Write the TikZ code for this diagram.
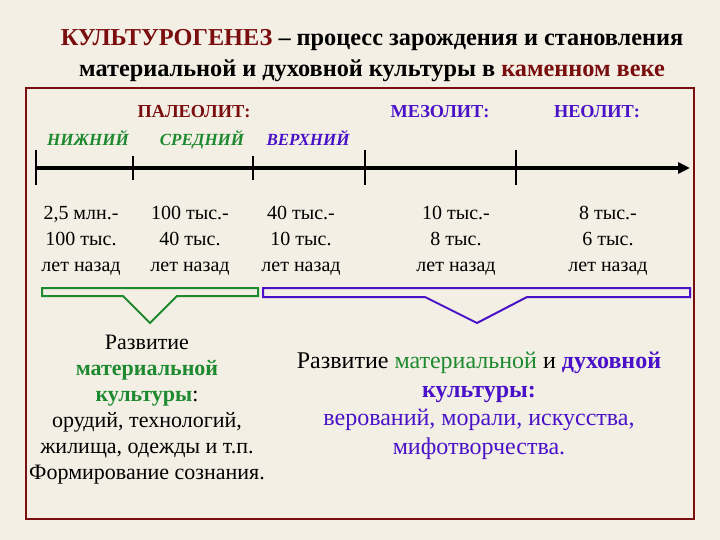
\documentclass[tikz,border=0pt]{standalone}
\usepackage{fontspec}
\setmainfont{Liberation Serif}
\usetikzlibrary{arrows.meta}

\definecolor{parchment}{RGB}{243,239,228}
\definecolor{kamred}{RGB}{122,14,14}
\definecolor{kamgreen}{RGB}{30,138,48}
\definecolor{kamviolet}{RGB}{74,18,200}
\newcommand{\setfs}[2]{\fontsize{#1}{#2}\selectfont}

\begin{document}
\begin{tikzpicture}[x=1pt,y=-1pt]
    \useasboundingbox (0,0) rectangle (720,540);
    \fill[parchment] (0,0) rectangle (720,540);

    \node[align=center,font=\setfs{24.3}{31}\bfseries] (title) at (372,56)
        {\textcolor{kamred}{КУЛЬТУРОГЕНЕЗ} -- процесс зарождения и становления\\
         материальной и духовной культуры в \textcolor{kamred}{каменном веке}};

    \draw[kamred,line width=2.5pt] (26,88) rectangle (694,519);

    \begin{scope}[every node/.style={anchor=base,font=\setfs{18.3}{20}\bfseries}]
        \node[kamred] (paleo) at (194,118) {ПАЛЕОЛИТ:};
        \node[kamviolet] (meso) at (440,118) {МЕЗОЛИТ:};
        \node[kamviolet] (neo) at (597,118) {НЕОЛИТ:};
    \end{scope}

    \begin{scope}[every node/.style={anchor=base,font=\setfs{17}{20}\bfseries\itshape}]
        \node[kamgreen] (lower) at (88,146) {НИЖНИЙ};
        \node[kamgreen] (middle) at (202,146) {СРЕДНИЙ};
        \node[kamviolet] (upper) at (308,146) {ВЕРХНИЙ};
    \end{scope}

    \coordinate (tstart) at (36,168);
    \coordinate (tend) at (690,168);
    \draw[line width=4pt,-{Triangle[length=12pt,width=11pt]}] (tstart) -- (tend);
    \foreach \x/\a/\b in {36/150/185, 133/156/180, 253/156/180, 365/150/185, 516/150/185}
        \draw[line width=2pt] (\x,\a) -- (\x,\b);

    \begin{scope}[every node/.style={align=center,font=\setfs{20}{26}}]
        \node (d1) at (81,241) {2,5 млн.-\\100 тыс.\\лет назад};
        \node (d2) at (190,241) {100 тыс.-\\40 тыс.\\лет назад};
        \node (d3) at (301,241) {40 тыс.-\\10 тыс.\\лет назад};
        \node (d4) at (456,241) {10 тыс.-\\8 тыс.\\лет назад};
        \node (d5) at (608,241) {8 тыс.-\\6 тыс.\\лет назад};
    \end{scope}

    \draw[kamgreen,line width=2pt,line join=miter]
        (42,288) -- (258,288) -- (258,296) -- (177,296) -- (150,323) -- (123,296) -- (42,296) -- cycle;
    \draw[kamviolet,line width=2pt,line join=miter]
        (263,288) -- (690,288) -- (690,297) -- (527,297) -- (477,323) -- (425,297) -- (263,297) -- cycle;

    \node[align=center,font=\setfs{22}{26}] (material) at (147,410)
        {Развитие\\
         \textcolor{kamgreen}{\bfseries материальной}\\
         \textcolor{kamgreen}{\bfseries культуры}:\\
         орудий, технологий,\\
         жилища, одежды и т.п.\\
         Формирование сознания.};

    \node[align=center,font=\setfs{24}{28.5}] (spirit) at (479,406)
        {Развитие \textcolor{kamgreen}{материальной} и \textcolor{kamviolet}{\bfseries духовной}\\
         \textcolor{kamviolet}{\bfseries культуры:}\\
         \textcolor{kamviolet}{верований, морали, искусства,}\\
         \textcolor{kamviolet}{мифотворчества.}};

\end{tikzpicture}
\end{document}
